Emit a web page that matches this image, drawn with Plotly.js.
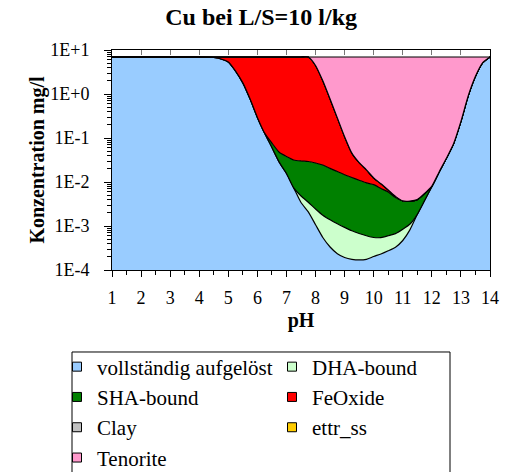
<!DOCTYPE html>
<html>
<head>
<meta charset="utf-8">
<script src="https://cdn.plot.ly/plotly-3.0.1.min.js"></script>
<style>html,body{margin:0;padding:0;background:#fff;}#chart{width:510px;height:472px;}</style>
</head>
<body>
<div id="chart"></div>
<script>
// pH grid
const pH = [1,2,3,4,4.5,4.75,5,5.25,5.5,5.75,6,6.25,6.5,6.75,7,7.25,7.5,7.75,8,8.25,8.5,8.75,9,9.25,9.5,9.75,10,10.25,10.5,10.75,11,11.25,11.5,11.75,12,12.25,12.5,12.75,13,13.25,13.5,13.75,14];

// Cu species concentrations (mg/l)
const dissolved = [6.93,6.93,6.93,6.93,6.75,6.26,5.34,3.32,1.79,0.766,0.294,0.129,0.0608,0.0283,0.0156,0.00734,0.00342,0.00209,0.00107,0.000548,0.000333,0.000235,0.000193,0.000175,0.000169,0.000175,0.000203,0.000231,0.000273,0.00033,0.000468,0.000828,0.00184,0.00378,0.00786,0.0169,0.0346,0.075,0.238,0.905,2.53,5.17,6.93];
const dhaBound = [0,0,0,0,0,0,0,0,0,0,0,0,0,0,0,0,0.00139,0.00138,0.00137,0.00121,0.00105,0.000887,0.000736,0.000603,0.000507,0.000424,0.000345,0.000314,0.000326,0.000342,0.000378,0.000282,0,0,0,0,0,0,0,0,0,0,0];
const shaBound = [0,0,0,0,0,0,0,0,0,0,0,0,0.0158,0.0192,0.0224,0.0243,0.0252,0.0258,0.0246,0.0226,0.019,0.0162,0.0137,0.0119,0.0103,0.00894,0.00818,0.00657,0.00533,0.00375,0.00285,0.00257,0.00214,0.0017,0.0002,0,0,0,0,0,0,0,0];
const feOxide = [0,0,0,0,0.18,0.67,1.59,3.61,5.14,6.16,6.64,6.80,6.85,6.88,6.89,6.90,6.90,6.90,4.42,1.97,0.749,0.269,0.0924,0.0327,0.0166,0.0093,0.0036,0.00198,0.00065,0.00029,0.00002,0,0,0,0,0,0,0,0,0,0,0,0];
const clay = [0,0,0,0,0,0,0,0,0,0,0,0,0,0,0,0,0,0,0,0,0,0,0,0,0,0,0,0,0,0,0,0,0,0,0,0,0,0,0,0,0,0,0];
const ettrSS = [0,0,0,0,0,0,0,0,0,0,0,0,0,0,0,0,0,0,0,0,0,0,0,0,0,0,0,0,0,0,0,0,0,0,0,0,0,0,0,0,0,0,0];
const tenorite = [0,0,0,0,0,0,0,0,0,0,0,0,0,0,0,0,0,0,2.49,4.94,6.16,6.65,6.83,6.89,6.90,6.91,6.92,6.92,6.92,6.93,6.93,6.93,6.93,6.92,6.92,6.91,6.90,6.86,6.69,6.03,4.40,1.76,0];

const seriesNames = ['vollständig aufgelöst','DHA-bound','SHA-bound','FeOxide','Clay','ettr_ss','Tenorite'];
const seriesColors = ['#99CCFF','#CCFFCC','#008000','#FF0000','#C0C0C0','#FFCC00','#FF99CC'];
const seriesValues = [dissolved, dhaBound, shaBound, feOxide, clay, ettrSS, tenorite];

const yTickVals = [1e-4,1e-3,1e-2,1e-1,1,10];
const yTickText = ['1E-4','1E-3','1E-2','1E-1','1E+0','1E+1'];

const traces = [];
seriesValues.forEach((vals, i) => {
  traces.push({
    type: 'scatter', x: pH, y: vals, name: seriesNames[i],
    mode: 'lines', stackgroup: 'one',
    line: {color: '#000', width: 1.2, shape: 'spline', smoothing: 0.6},
    fillcolor: seriesColors[i],
    showlegend: false, hoverinfo: 'skip'
  });
});
// legend entries (small square symbols)
seriesNames.forEach((n, i) => {
  traces.push({
    type: 'scatter', x: [null], y: [null], name: n, mode: 'markers',
    marker: {symbol: 'square', size: 9, color: seriesColors[i], line: {color: '#000', width: 1}},
    showlegend: true, hoverinfo: 'skip'
  });
});
// carrier for the top tick axis
traces.push({type: 'scatter', x: [], y: [], xaxis: 'x2', yaxis: 'y', showlegend: false, hoverinfo: 'skip'});

const serif = '"Liberation Serif", "Times New Roman", serif';

const layout = {
  width: 510, height: 472,
  margin: {l: 112, r: 20, t: 50, b: 202, autoexpand: false},
  paper_bgcolor: '#fff', plot_bgcolor: '#fff',
  font: {family: serif, size: 18, color: '#000'},
  title: {text: '<b>Cu bei L/S=10 l/kg</b>', font: {family: serif, size: 24, color: '#000'},
          xref: 'container', x: 0.512, xanchor: 'center', yref: 'container', y: 0.964, yanchor: 'middle'},
  xaxis: {
    range: [1, 14], tickmode: 'linear', tick0: 1, dtick: 1,
    ticks: 'outside', ticklen: 6, tickcolor: '#000', tickwidth: 1, ticklabelstandoff: 5,
    showline: true, linecolor: '#000', linewidth: 1, mirror: true,
    showgrid: false, zeroline: false,
    minor: {tick0: 1, dtick: 0.5, ticks: 'outside', ticklen: 4, tickcolor: '#000', showgrid: false},
    tickfont: {family: serif, size: 18},
    title: {text: '<b>pH</b>', font: {family: serif, size: 20}, standoff: 6}
  },
  xaxis2: {
    overlaying: 'x', anchor: 'y', side: 'top', range: [1, 14],
    tickmode: 'linear', tick0: 1, dtick: 1, ticks: 'inside', ticklen: 5, tickcolor: '#777',
    showticklabels: false, showgrid: false, zeroline: false, showline: false
  },
  yaxis: {
    type: 'log', range: [-4, 1],
    tickmode: 'array', tickvals: yTickVals, ticktext: yTickText,
    ticks: 'outside', ticklen: 7, tickcolor: '#000', tickwidth: 1, ticklabelstandoff: 11,
    showline: true, linecolor: '#000', linewidth: 1, mirror: true,
    showgrid: false, zeroline: false,
    minor: {dtick: 'D1', ticks: 'outside', ticklen: 4, tickcolor: '#000', showgrid: false},
    tickfont: {family: serif, size: 18},
    title: {text: '<b>Konzentration mg/l</b>', font: {family: serif, size: 20}, standoff: 0}
  },
  legend: {
    orientation: 'h', traceorder: 'normal',
    x: -0.1455, xanchor: 'left', y: -0.3477, yanchor: 'top',
    entrywidth: 170, font: {family: serif, size: 21, color: '#000'},
    bgcolor: 'rgba(0,0,0,0)', borderwidth: 0
  },
  shapes: [{
    type: 'rect', xref: 'paper', yref: 'paper',
    x0: -0.1058, x1: 0.8942, y0: -0.3727, y1: -0.9545,
    line: {color: '#000', width: 1}, fillcolor: 'rgba(0,0,0,0)', layer: 'above'
  }],
  showlegend: true
};

Plotly.newPlot('chart', traces, layout, {displayModeBar: false, staticPlot: true});
</script>
</body>
</html>
